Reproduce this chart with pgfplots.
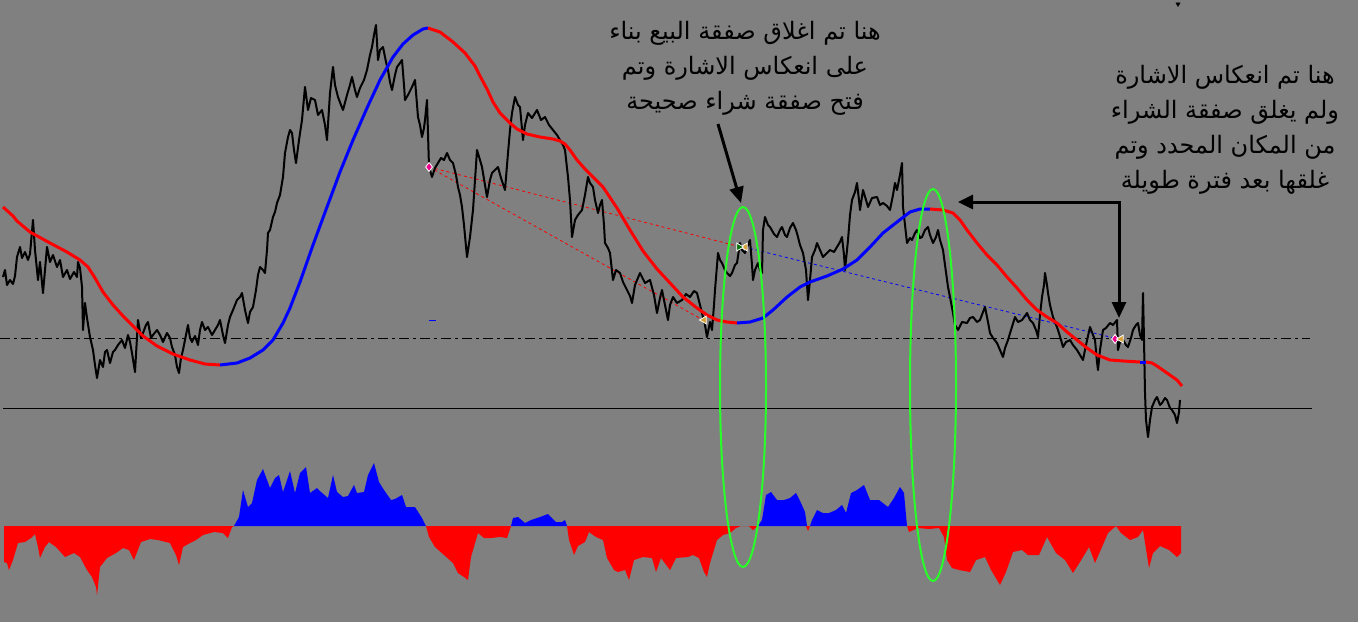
\documentclass[border=0pt]{standalone}
\usepackage{pgfplots}
\pgfplotsset{compat=1.18}
\usetikzlibrary{arrows.meta}
\usepackage{fontspec}
\newfontfamily\arabicfont[Script=Arabic]{DejaVu Sans}
\TeXXeTstate=1
\definecolor{bg}{RGB}{128,128,128}
\definecolor{mared}{RGB}{255,0,0}
\definecolor{mablue}{RGB}{0,0,255}
\definecolor{lime}{RGB}{40,255,40}
\definecolor{gold}{RGB}{214,160,50}
\definecolor{dgreen}{RGB}{0,110,0}
\definecolor{grid}{RGB}{106,106,106}

% price (pixel coords, y from top)
\pgfplotstableread{
x y
3 277
5 270
7 285
10 280
13 284
15 276
17 257
20 247
22 258
25 252
28 260
30 254
33 220
35 250
38 280
40 262
43 293
45 270
47 247
50 262
53 255
57 267
60 260
63 277
67 270
70 279
74 272
77 277
78 262
80 268
82 287
83 330
85 303
87 318
90 337
93 350
95 365
97 378
100 360
103 367
105 352
107 350
110 363
113 352
115 350
118 345
122 340
125 348
128 335
130 342
132 353
135 372
138 320
141 338
143 333
146 325
148 322
151 338
153 335
157 330
160 335
163 342
167 333
170 338
172 347
175 355
177 367
179 373
181 358
183 350
186 335
188 325
190 338
192 342
195 336
198 345
200 330
202 322
205 330
208 327
212 335
215 330
218 325
220 320
223 335
225 343
228 325
230 317
233 310
237 300
240 297
242 293
245 310
248 323
250 312
253 307
256 290
258 275
260 267
263 270
265 273
267 250
268 233
270 230
273 217
275 212
277 203
280 195
283 177
285 153
288 137
290 130
292 133
294 150
296 163
299 140
302 120
305 87
308 110
311 98
315 100
318 115
322 110
325 125
327 140
330 93
333 67
335 85
338 97
341 105
343 110
347 95
350 85
352 77
355 90
357 97
360 88
364 80
367 70
370 55
372 47
374 35
376 25
378 60
380 50
383 47
386 62
388 70
390 82
392 90
395 75
397 67
400 63
402 60
404 85
405 100
408 95
412 87
415 80
418 117
420 125
422 137
424 128
425 120
427 100
429 167
432 177
435 168
438 163
441 158
444 160
447 153
450 160
453 163
456 175
458 187
460 195
462 207
464 225
467 257
470 237
473 210
475 180
477 150
480 160
482 167
485 185
487 197
490 180
492 173
495 170
498 167
501 178
505 190
508 153
510 130
512 113
515 97
518 105
520 107
523 140
525 125
528 113
532 118
537 110
541 120
545 117
549 125
553 130
557 135
560 140
563 145
565 150
568 177
570 200
572 237
575 220
578 215
582 210
585 195
588 177
590 183
593 187
595 200
598 213
600 205
602 200
604 225
605 243
608 248
610 253
613 280
616 270
620 273
623 282
627 290
630 296
632 303
635 285
640 273
645 283
650 280
654 295
657 313
660 298
662 290
665 305
668 320
670 305
673 297
677 303
682 300
686 294
690 297
694 291
697 293
700 305
702 313
705 325
707 337
710 322
712 330
714 305
715 290
718 253
720 260
722 263
725 270
727 273
730 276
732 273
735 265
737 263
740 243
742 250
745 253
748 245
750 240
752 265
753 280
755 270
758 263
760 270
762 273
763 230
765 217
768 225
770 227
774 234
777 237
780 230
782 227
785 235
787 237
790 228
793 223
796 230
798 237
800 245
803 253
806 270
808 300
810 280
812 257
815 250
817 243
820 250
823 257
826 254
830 250
834 252
837 247
840 242
842 237
844 255
845 270
847 250
848 240
850 215
852 200
855 192
857 183
859 200
860 210
863 190
866 200
868 207
872 198
877 197
880 205
883 203
887 206
890 210
893 195
895 183
897 190
900 175
902 163
903 207
905 225
907 243
910 238
912 240
915 233
917 230
920 238
922 237
925 230
928 227
930 235
933 243
936 237
938 230
940 240
943 250
945 265
948 287
950 297
953 313
955 325
958 330
962 322
967 323
970 318
973 317
977 322
980 320
983 312
985 307
988 322
990 333
993 338
997 343
1000 350
1003 357
1005 348
1008 340
1011 330
1015 317
1018 322
1022 320
1025 316
1027 313
1030 320
1033 323
1036 330
1038 337
1040 315
1042 297
1044 285
1045 273
1047 285
1048 293
1050 305
1053 317
1055 322
1058 330
1061 340
1063 347
1066 342
1070 340
1073 345
1077 350
1080 355
1083 360
1086 345
1090 327
1093 335
1095 340
1097 362
1098 370
1100 350
1103 330
1106 328
1110 323
1113 325
1117 320
1118 350
1120 342
1123 340
1126 345
1128 347
1131 338
1133 330
1136 325
1138 323
1140 335
1142 340
1143 293
1144 340
1145 393
1146 420
1148 437
1150 420
1152 407
1155 400
1157 397
1160 405
1162 403
1165 398
1167 400
1170 408
1172 410
1175 415
1177 423
1179 412
1180 400
}\price

\begin{document}
\begin{tikzpicture}
\begin{axis}[
  width=1358pt, height=622pt, scale only axis,
  xmin=0, xmax=1358, ymin=0, ymax=622, y dir=reverse,
  axis line style={draw=none}, xtick=\empty, ytick=\empty,
  axis background/.style={fill=bg},
  clip=true,
]
% reference lines
\addplot[grid, line width=0.6pt, dash pattern=on 10pt off 4pt on 3pt off 4pt] coordinates {(0,338) (1310,338)};
\addplot[black, line width=1pt] coordinates {(3,408) (1312,408)};

% histogram
\addplot[fill=mared, draw=none] coordinates {(4,526) (4,562) (7,563) (9,570) (13,560) (18,543) (25,542) (31,538) (35,534) (38,547) (40,558) (45,547) (49,542) (56,547) (65,557) (74,553) (80,557) (87,570) (92,577) (96,587) (97,595) (100,567) (107,558) (116,553) (123,548) (129,550) (134,560) (141,542) (150,539) (158,540) (170,543) (176,555) (179,565) (183,547) (190,543) (196,540) (203,535) (214,532) (223,533) (228,538) (232,527) (234,526)} -- cycle;
\addplot[fill=mablue, draw=none] coordinates {(234,526) (239,517) (243,490) (248,507) (252,503) (257,480) (263,469) (270,488) (275,478) (279,475) (283,492) (290,471) (295,493) (300,473) (306,467) (310,493) (317,488) (321,492) (328,498) (333,475) (337,492) (343,497) (348,496) (354,485) (357,493) (364,492) (368,475) (374,463) (379,482) (384,490) (391,500) (395,499) (402,495) (406,507) (415,507) (422,518) (426,526)} -- cycle;
\addplot[fill=mared, draw=none] coordinates {(426,526) (429,537) (435,547) (444,555) (453,563) (458,573) (464,577) (468,580) (471,557) (478,533) (484,538) (491,538) (500,537) (507,538) (511,526)} -- cycle;
\addplot[fill=mablue, draw=none] coordinates {(511,526) (513,518) (518,517) (525,523) (531,520) (540,517) (548,514) (556,522) (562,522) (565,520) (567,526)} -- cycle;
\addplot[fill=mared, draw=none] coordinates {(567,526) (569,540) (574,555) (578,546) (585,542) (589,532) (596,537) (603,540) (607,558) (614,570) (618,572) (625,570) (629,580) (634,560) (643,557) (652,558) (656,572) (661,558) (670,570) (676,558) (688,557) (693,555) (699,558) (704,572) (707,577) (710,563) (717,540) (723,535) (730,533) (736,528) (741,526) (749,526) (753,530) (758,526)} -- cycle;
\addplot[fill=mablue, draw=none] coordinates {(758,526) (762,520) (766,495) (771,492) (777,500) (784,500) (790,498) (796,493) (801,503) (805,512) (807,526)} -- cycle;
\addplot[fill=mared, draw=none] coordinates {(806,526) (808,531) (810,526)} -- cycle;
\addplot[fill=mablue, draw=none] coordinates {(810,526) (812,520) (817,510) (823,513) (829,513) (836,510) (842,505) (846,513) (851,493) (857,490) (864,485) (870,500) (879,500) (888,507) (894,498) (900,487) (904,493) (907,526)} -- cycle;
\addplot[fill=mared, draw=none] coordinates {(907,526) (909,532) (918,528) (929,529) (939,528) (944,537) (947,560) (952,568) (959,570) (970,572) (976,560) (985,557) (991,570) (1000,585) (1006,572) (1013,552) (1022,550) (1028,555) (1039,555) (1047,537) (1056,553) (1065,560) (1073,573) (1080,562) (1089,547) (1095,563) (1102,547) (1108,533) (1116,526) (1121,533) (1130,540) (1138,537) (1143,530) (1149,568) (1153,553) (1160,546) (1169,550) (1177,557) (1181,553) (1181,526)} -- cycle;

% trade lines
\addplot[mared, line width=0.8pt, dash pattern=on 3pt off 3pt] coordinates {(429,167) (741,247)};
\addplot[mared, line width=0.8pt, dash pattern=on 3pt off 3pt] coordinates {(429,167) (703,320)};
\addplot[mablue, line width=0.8pt, dash pattern=on 3pt off 3pt] coordinates {(744,247) (1114,338)};

% price
\addplot[black, line width=2pt, line join=round] table[x=x, y=y] {\price};

% moving average
\addplot[mared, line width=3pt] coordinates {(3,207) (13,216) (17,221) (30,232) (50,243) (67,252) (80,260) (88,267) (95,278) (103,292) (113,305) (123,316) (133,326) (143,336) (157,346) (173,354) (190,360) (205,364) (220,365)};
\addplot[mablue, line width=3pt] coordinates {(220,365) (237,363) (250,358) (263,350) (273,340) (283,323) (290,308) (300,282) (313,245) (327,207) (340,172) (353,140) (367,108) (380,80) (393,57) (403,44) (413,35) (423,29) (428,28)};
\addplot[mared, line width=3pt] coordinates {(428,28) (440,32) (453,42) (465,53) (475,66) (480,76) (487,89) (493,102) (500,113) (510,123) (517,129) (527,134) (540,137) (553,139) (560,141) (565,144) (570,150) (577,160) (585,169) (592,176) (603,187) (617,208) (630,230) (643,251) (657,269) (670,283) (683,297) (697,308) (707,315) (717,320) (727,322) (737,323)};
\addplot[mablue, line width=3pt] coordinates {(737,323) (750,322) (763,318) (773,310) (787,297) (800,287) (810,282) (827,276) (843,269) (857,260) (870,247) (883,233) (897,222) (910,212) (920,209) (930,209)};
\addplot[mared, line width=3pt] coordinates {(930,209) (943,210) (953,213) (960,220) (967,230) (977,243) (987,255) (997,265) (1007,277) (1017,288) (1027,300) (1037,310) (1047,317) (1057,323) (1067,332) (1077,340) (1087,348) (1097,355) (1110,360) (1123,361) (1140,362)};
\addplot[mablue, line width=3pt] coordinates {(1140,362) (1146,362)};
\addplot[mared, line width=3pt] coordinates {(1146,362) (1152,363) (1157,366) (1167,373) (1177,380) (1182,386)};

% small markers
\addplot[mablue, line width=1pt] coordinates {(429,320) (436,320)};
\addplot[only marks, mark=diamond*, mark size=4.5pt, mark options={fill=magenta, draw=white, line width=0.8pt}] coordinates {(429,167) (1115,339)};
\addplot[only marks, mark=triangle*, mark size=4.5pt, mark options={rotate=90, fill=gold, draw=white, line width=0.8pt}] coordinates {(704,320) (745,247) (1121,339)};
\addplot[only marks, mark=triangle*, mark size=4.5pt, mark options={rotate=-90, fill=dgreen, draw=white, line width=0.8pt}] coordinates {(739,247)};
\addplot[only marks, mark=triangle*, mark size=2.5pt, mark options={rotate=180, fill=black, draw=black}] coordinates {(1178,4)};

% ellipses
\draw[lime, line width=2pt] (axis cs:743,387) ellipse [x radius=23pt, y radius=180pt];
\draw[lime, line width=2pt] (axis cs:933,385) ellipse [x radius=23pt, y radius=196pt];

% arrows
\draw[black, line width=3pt, -{Triangle[length=16pt, width=14pt]}] (axis cs:718,124) -- (axis cs:741,203);
\draw[black, line width=3pt, {Triangle[length=15pt, width=14pt]}-{Triangle[length=16pt, width=14pt]}] (axis cs:958,202) -- (axis cs:1119,202) -- (axis cs:1119,318);

% notes
\node[align=center, font=\arabicfont\fontsize{24}{35}\selectfont, inner sep=0pt] at (axis cs:745,68)
  {\beginR هنا تم اغلاق صفقة البيع بناء\endR\\ \beginR على انعكاس الاشارة وتم\endR\\ \beginR فتح صفقة شراء صحيحة\endR};
\node[align=center, font=\arabicfont\fontsize{24}{35}\selectfont, inner sep=0pt] at (axis cs:1225,130)
  {\beginR هنا تم انعكاس الاشارة\endR\\ \beginR ولم يغلق صفقة الشراء\endR\\ \beginR من المكان المحدد وتم\endR\\ \beginR غلقها بعد فترة طويلة\endR};
\end{axis}
\end{tikzpicture}
\end{document}
